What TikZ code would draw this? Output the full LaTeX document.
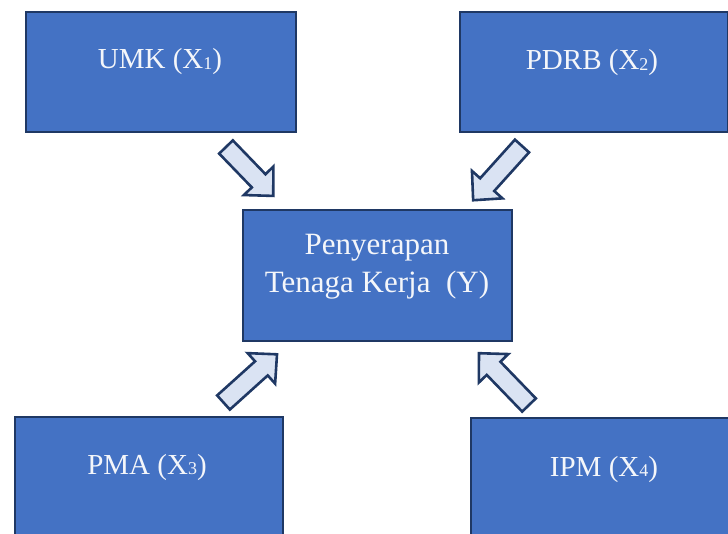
\documentclass[tikz,border=0pt]{standalone}
\usepackage{fontspec}
\setmainfont{Liberation Serif}
\definecolor{boxfill}{HTML}{4472C4}
\definecolor{navy}{HTML}{1F3864}
\definecolor{arrowfill}{HTML}{DAE3F3}
\definecolor{txt}{HTML}{F4F6FA}
\newcommand\sbs[1]{\raisebox{-0.5pt}{\fontsize{18}{18}\selectfont #1}}
\tikzset{
  varbox/.style={draw=navy, fill=boxfill, line width=2pt, inner sep=0pt},
  lbl/.style={text=txt, font=\fontsize{29}{38}\selectfont, inner sep=0pt},
  blk/.style={draw=navy, fill=arrowfill, line width=2.6pt, line join=miter},
}
\newcommand\blkarrow[4]{% tail x, tail y, angle, length
  \draw[blk, shift={(#1,#2)}, rotate=#3]
    (0,-9.5) -- (#4-21,-9.5) -- (#4-21,-20.5) -- (#4,0) -- (#4-21,20.5) -- (#4-21,9.5) -- (0,9.5) -- cycle;}
\begin{document}
\begin{tikzpicture}[x=1pt,y=-1pt]
\useasboundingbox (0,0) rectangle (728,534);
\clip (0,0) rectangle (728,534);
% boxes
\node[varbox, minimum width=270, minimum height=120, anchor=north west] (umk) at (25,11) {};
\node[varbox, minimum width=268, minimum height=120, anchor=north west] (pdrb) at (459,11) {};
\node[varbox, minimum width=269, minimum height=131, anchor=north west] (y) at (242,209) {};
\node[varbox, minimum width=268, minimum height=130, anchor=north west] (pma) at (14,416) {};
\node[varbox, minimum width=270, minimum height=130, anchor=north west] (ipm) at (470,417) {};
% labels
\node[lbl, anchor=base] (tumk) at (160,69) {UMK (X\sbs{1})};
\node[lbl, anchor=base] (tpdrb) at (592,70) {PDRB (X\sbs{2})};
\node[lbl, align=center, font=\fontsize{31}{38}\selectfont] (ty) at (377,267) {Penyerapan\\Tenaga Kerja~~(Y)};
\node[lbl, anchor=base] (tpma) at (147,474) {PMA (X\sbs{3})};
\node[lbl, anchor=base] (tipm) at (604,476) {IPM (X\sbs{4})};
% block arrows
\blkarrow{226}{147}{-46}{68}
\blkarrow{522}{146}{-132}{73}
\blkarrow{223.5}{402.5}{42}{72}
\blkarrow{529}{405}{134}{72}
\end{tikzpicture}
\end{document}
